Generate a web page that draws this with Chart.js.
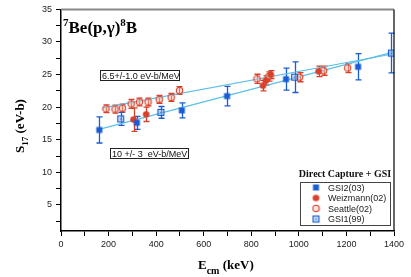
<!DOCTYPE html>
<html>
<head>
<meta charset="utf-8">
<script src="https://cdn.jsdelivr.net/npm/chart.js@4.4.1/dist/chart.umd.min.js"></script>
<style>
  html, body { margin: 0; padding: 0; background: #fff; }
  #wrap { position: relative; width: 411px; height: 277px; }
</style>
</head>
<body>
<div id="wrap"><canvas id="s17Chart" width="411" height="277"></canvas></div>
<script>
// GSI2(03) - filled blue squares
let gsi2E   = [161, 319, 508, 698, 946, 1249];
let gsi2S   = [16.5, 17.6, 19.5, 21.7, 24.3, 26.2];
let gsi2Err = [2.0, 1.0, 1.15, 1.5, 1.7, 2.0];

// Weizmann(02) - filled red circles
let weizE   = [305, 358, 849, 862, 882, 1083];
let weizS   = [18.1, 18.9, 23.3, 24.1, 25.0, 25.5];
let weizErr = [1.8, 1.1, 0.8, 0.7, 0.6, 0.8];

// Seattle(02) - open red circles
let seatE   = [189, 227, 258, 295, 330, 366, 413, 463, 498, 824, 873, 1003, 1104, 1205];
let seatS   = [19.75, 19.7, 19.85, 20.5, 20.8, 20.8, 21.2, 21.5, 22.55, 24.35, 24.7, 24.6, 25.6, 26.0];
let seatErr = [0.6, 0.6, 0.6, 0.7, 0.6, 0.6, 0.6, 0.6, 0.6, 0.7, 0.7, 0.7, 0.7, 0.7];

// GSI1(99) - open blue squares
let gsi1E   = [251, 420, 982, 1389];
let gsi1S   = [18.2, 19.2, 24.6, 28.3];
let gsi1Err = [1.0, 0.9, 2.35, 3.05];

// linear fits (end points)
let fitAE = [175, 1400];
let fitAS = [19.9, 28.2];
let fitBE = [160, 1400];
let fitBS = [16.6, 28.5];

let yTicks = [2.5, 5, 7.5, 10, 12.5, 15, 17.5, 20, 22.5, 25, 27.5, 30, 32.5, 35];

const BLUE = '#1a5cd2';
const RED = '#d8402a';
const FIT = '#5bbfe8';

function pts(xs, ys) {
  return xs.map((v, i) => ({ x: v, y: ys[i] }));
}

// marker images
function marker(kind) {
  let c = document.createElement('canvas');
  c.width = 9; c.height = 9;
  let g = c.getContext('2d');
  if (kind === 'fsq') {
    g.fillStyle = BLUE; g.fillRect(1.5, 1.5, 6, 6);
  } else if (kind === 'osq') {
    g.fillStyle = 'rgba(150,185,235,0.55)'; g.fillRect(1.5, 1.5, 6, 6);
    g.strokeStyle = BLUE; g.lineWidth = 1.1; g.strokeRect(1.5, 1.5, 6, 6);
    g.fillStyle = BLUE; g.fillRect(4, 4, 1.2, 1.2);
  } else if (kind === 'fci') {
    g.fillStyle = RED; g.beginPath(); g.arc(4.5, 4.5, 3.3, 0, Math.PI * 2); g.fill();
  } else {
    g.fillStyle = 'rgba(245,190,180,0.45)';
    g.strokeStyle = RED; g.lineWidth = 1.1;
    g.beginPath(); g.arc(4.5, 4.5, 3.2, 0, Math.PI * 2); g.fill(); g.stroke();
  }
  return c;
}

const errorBars = {
  id: 'errorBars',
  beforeDatasetsDraw(chart) {
    const { ctx, scales: { x, y } } = chart;
    chart.data.datasets.forEach(ds => {
      if (!ds.errors) return;
      ctx.save();
      ctx.strokeStyle = ds.barColor;
      ctx.lineWidth = 1.3;
      ds.data.forEach((p, i) => {
        let px = Math.round(x.getPixelForValue(p.x)) + 0.5;
        let top = y.getPixelForValue(p.y + ds.errors[i]);
        let bot = y.getPixelForValue(p.y - ds.errors[i]);
        ctx.beginPath();
        ctx.moveTo(px, top); ctx.lineTo(px, bot);
        ctx.moveTo(px - 3, top); ctx.lineTo(px + 3, top);
        ctx.moveTo(px - 3, bot); ctx.lineTo(px + 3, bot);
        ctx.stroke();
      });
      ctx.restore();
    });
  }
};

function richText(ctx, parts, x, y) {
  let cx = x;
  parts.forEach(p => {
    ctx.font = 'bold ' + p[1] + 'px "Liberation Serif"';
    ctx.fillText(p[0], cx, y + p[2]);
    cx += ctx.measureText(p[0]).width;
  });
  return cx - x;
}

const decorations = {
  id: 'decorations',
  afterDraw(chart) {
    const { ctx, chartArea: a } = chart;
    ctx.save();
    // top and right frame
    ctx.strokeStyle = '#888'; ctx.lineWidth = 2;
    ctx.beginPath(); ctx.moveTo(a.left, a.top); ctx.lineTo(a.right, a.top); ctx.stroke();
    ctx.strokeStyle = '#000'; ctx.lineWidth = 1.2;
    ctx.beginPath(); ctx.moveTo(a.right, a.top); ctx.lineTo(a.right, a.bottom); ctx.stroke();

    ctx.fillStyle = '#000';
    ctx.textAlign = 'left';
    ctx.textBaseline = 'alphabetic';
    // title
    richText(ctx, [['7', 11, -7], ['Be(p,\u03b3)', 17, 0], ['8', 11, -7], ['B', 17, 0]], 63, 33);

    // x title
    richText(ctx, [['E', 13, 0], ['cm', 10, 5], [' (keV)', 13, 0]], 198, 269);

    // y title
    ctx.save();
    ctx.translate(24, 126);
    ctx.rotate(-Math.PI / 2);
    let parts = [['S', 13, 0], ['17', 9, 4], [' (eV-b)', 13, 0]];
    let w = 0;
    parts.forEach(p => { ctx.font = 'bold ' + p[1] + 'px "Liberation Serif"'; w += ctx.measureText(p[0]).width; });
    richText(ctx, parts, -w / 2, 0);
    ctx.restore();

    // fit annotations
    ctx.font = '9px "Liberation Sans"';
    ctx.lineWidth = 1;
    ctx.strokeStyle = '#222';
    ctx.fillStyle = '#fff';
    ctx.fillRect(100.5, 70.5, 79, 10); ctx.strokeRect(100.5, 70.5, 79, 10);
    ctx.fillRect(110.5, 148.5, 78, 10); ctx.strokeRect(110.5, 148.5, 78, 10);
    ctx.fillStyle = '#111';
    ctx.fillText('6.5+/-1.0 eV-b/MeV', 102, 79);
    ctx.fillText('10 +/- 3  eV-b/MeV', 112, 157);

    // legend
    ctx.font = 'bold 10px "Liberation Serif"';
    ctx.textAlign = 'center';
    ctx.fillText('Direct Capture + GSI', 345, 177);
    ctx.strokeStyle = '#444';
    ctx.strokeRect(300.5, 182.5, 90, 43);
    let items = [['fsq', 'GSI2(03)'], ['fci', 'Weizmann(02)'], ['oci', 'Seattle(02)'], ['osq', 'GSI1(99)']];
    ctx.textAlign = 'left';
    ctx.font = '9px "Liberation Sans"';
    items.forEach((it, i) => {
      let yy = 187.5 + i * 10.5;
      ctx.drawImage(marker(it[0]), 311.5, yy - 4.5);
      ctx.fillStyle = '#222';
      ctx.fillText(it[1], 328, yy + 3);
    });
    ctx.restore();
  }
};

let myChart = document.getElementById('s17Chart').getContext('2d');
let s17Chart = new Chart(myChart, {
  type: 'scatter',
  data: {
    datasets: [
      {
        label: 'GSI2(03)', data: pts(gsi2E, gsi2S), errors: gsi2Err, barColor: BLUE,
        pointStyle: marker('fsq'), pointRadius: 4, order: 1
      },
      {
        label: 'Weizmann(02)', data: pts(weizE, weizS), errors: weizErr, barColor: RED,
        pointStyle: marker('fci'), pointRadius: 4, order: 2
      },
      {
        label: 'Seattle(02)', data: pts(seatE, seatS), errors: seatErr, barColor: RED,
        pointStyle: marker('oci'), pointRadius: 4, order: 3
      },
      {
        label: 'GSI1(99)', data: pts(gsi1E, gsi1S), errors: gsi1Err, barColor: BLUE,
        pointStyle: marker('osq'), pointRadius: 4, order: 0
      },
      {
        label: 'fit A', data: pts(fitAE, fitAS), showLine: true, pointRadius: 0,
        borderColor: FIT, borderWidth: 1.2, order: 5
      },
      {
        label: 'fit B', data: pts(fitBE, fitBS), showLine: true, pointRadius: 0,
        borderColor: FIT, borderWidth: 1.2, order: 5
      }
    ]
  },
  options: {
    responsive: false,
    animation: false,
    layout: { padding: { left: 0, right: 17, top: 9, bottom: 0 } },
    plugins: {
      legend: { display: false },
      tooltip: { enabled: false }
    },
    scales: {
      x: {
        type: 'linear',
        min: 0,
        max: 1400,
        afterFit: s => { s.height = 46; },
        ticks: {
          stepSize: 100,
          autoSkip: false,
          maxRotation: 0,
          padding: 3,
          color: '#222',
          font: { family: 'Liberation Sans', size: 9 },
          callback: v => (v % 200 === 0 ? v : '')
        },
        grid: { drawOnChartArea: false, drawTicks: true, tickLength: 5, color: '#000' },
        border: { color: '#000', width: 1.5 }
      },
      y: {
        min: 1,
        max: 35,
        afterFit: s => { s.width = 61; },
        afterBuildTicks: s => { s.ticks = yTicks.map(v => ({ value: v })); },
        ticks: {
          padding: 4,
          color: '#222',
          font: { family: 'Liberation Sans', size: 9 },
          callback: v => (v % 5 === 0 ? v : '')
        },
        grid: { drawOnChartArea: false, drawTicks: true, tickLength: 5, color: '#000' },
        border: { color: '#000', width: 1.5 }
      }
    }
  },
  plugins: [errorBars, decorations]
});
</script>
</body>
</html>
